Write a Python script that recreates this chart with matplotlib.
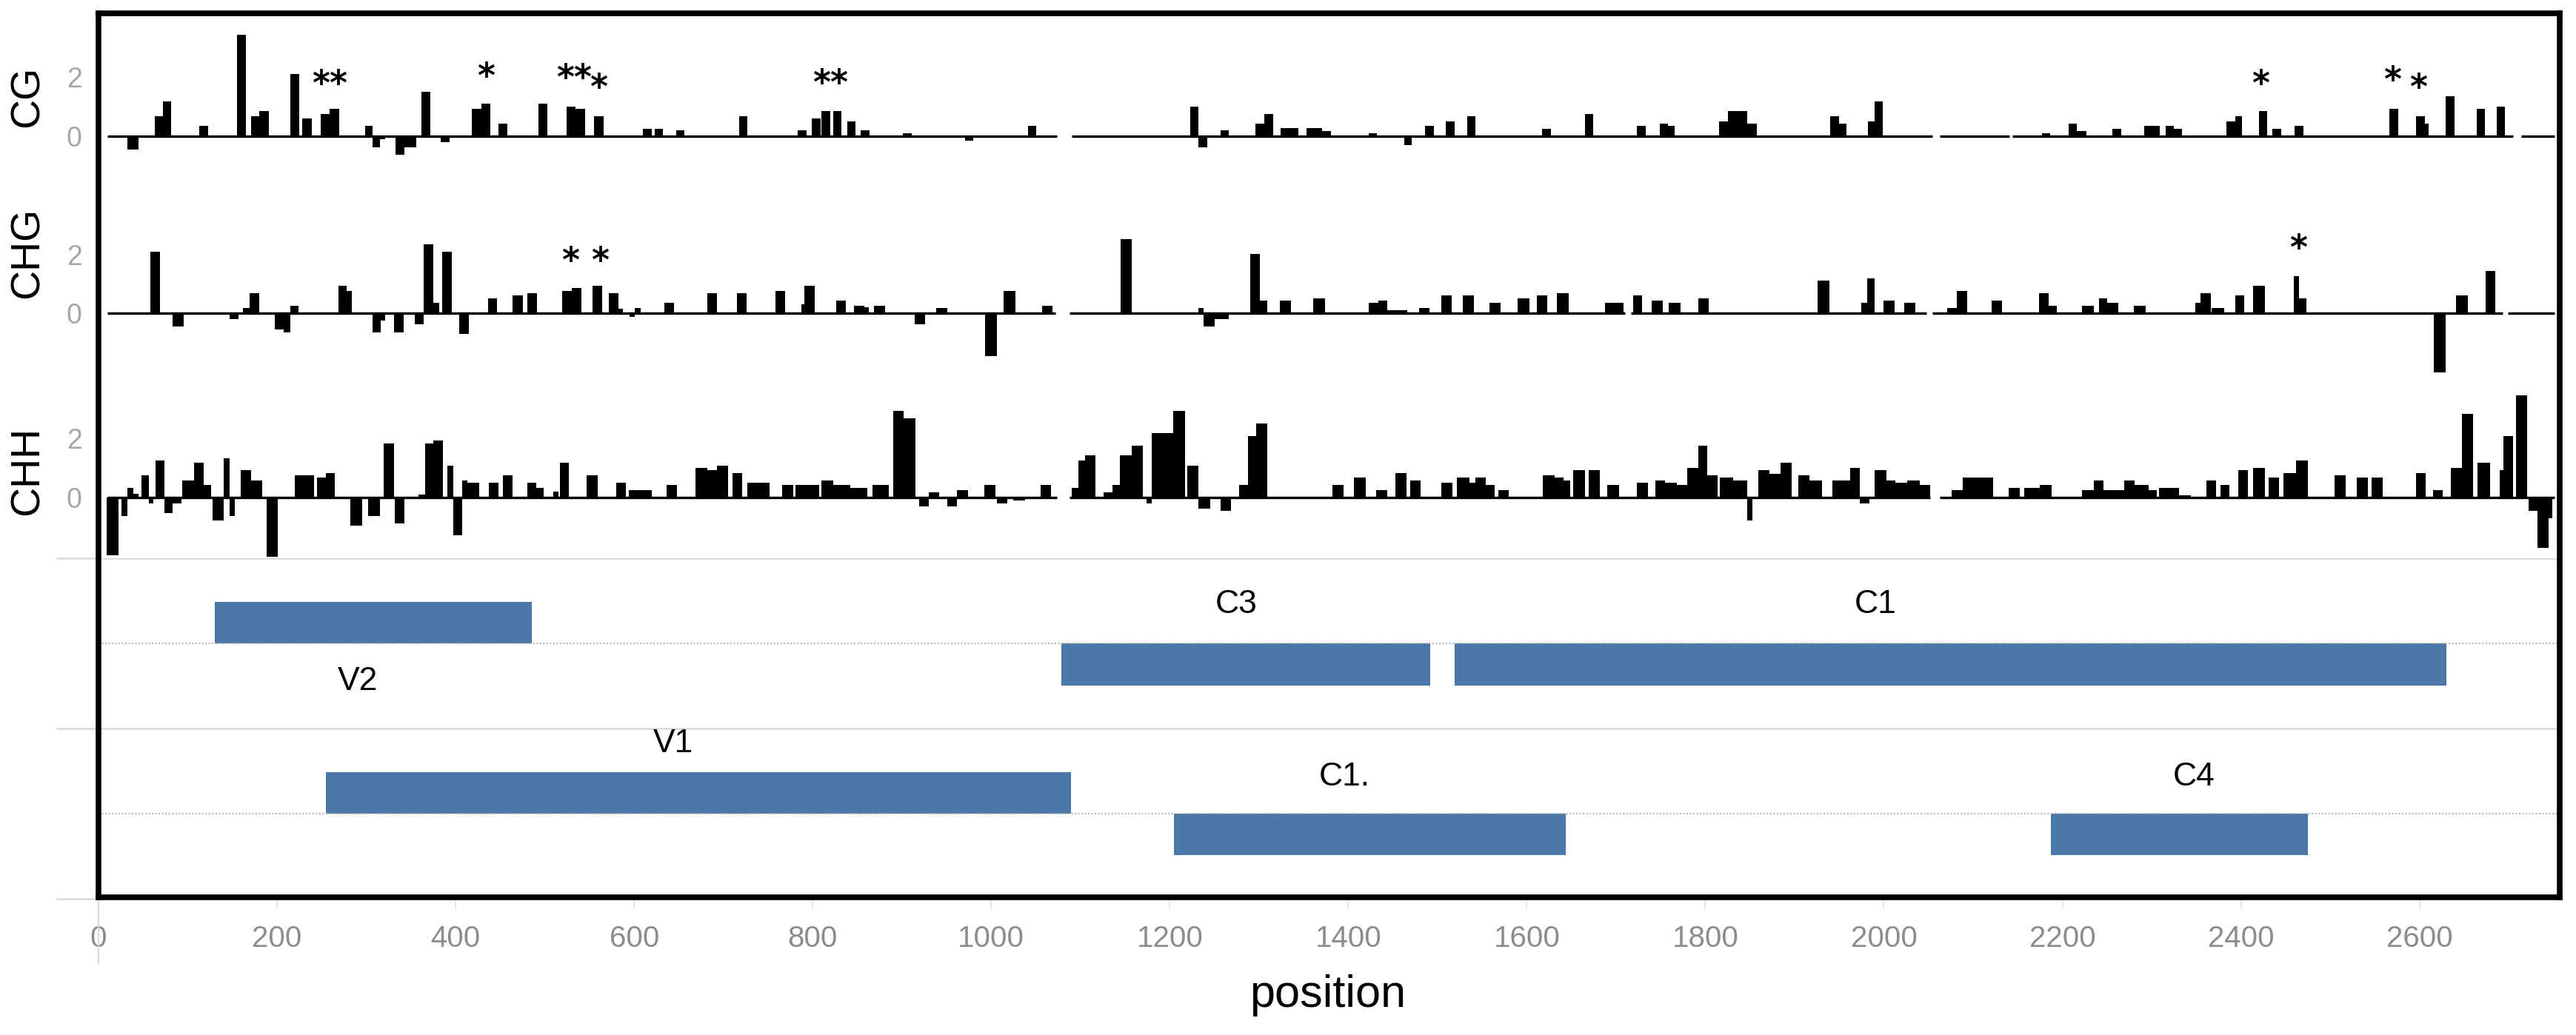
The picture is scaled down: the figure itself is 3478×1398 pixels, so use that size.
import matplotlib.pyplot as plt
import numpy as np

plt.rcParams['font.family'] = ['Liberation Sans', 'DejaVu Sans']

# methylation windows: (start, end, value)
cg_bars = [
    (32, 45, -0.46), (63, 72, 0.67), (72, 81, 1.17), (113, 123, 0.33), (155, 165, 3.42),
    (171, 180, 0.67), (180, 191, 0.83), (215, 225, 2.08), (228, 239, 0.58), (249, 259, 0.75),
    (259, 270, 0.92), (299, 307, 0.33), (307, 315, -0.40), (315, 321, -0.12), (333, 343, -0.63),
    (343, 356, -0.40), (362, 372, 1.5), (383, 393, -0.21), (418, 429, 0.92), (429, 439, 1.08),
    (448, 458, 0.42), (493, 503, 1.08), (524, 534, 1.0), (534, 545, 0.92), (555, 566, 0.67),
    (610, 620, 0.25), (623, 632, 0.25), (647, 656, 0.18), (718, 727, 0.67), (783, 793, 0.18),
    (799, 809, 0.58), (810, 820, 0.83), (823, 832, 0.83), (839, 848, 0.5), (854, 864, 0.18),
    (901, 911, 0.08), (971, 980, -0.15), (1041, 1050, 0.33), (1223, 1232, 1.0), (1232, 1242, -0.4),
    (1257, 1266, 0.18), (1296, 1306, 0.42), (1306, 1316, 0.75), (1324, 1344, 0.27), (1353, 1371, 0.27),
    (1371, 1381, 0.17), (1423, 1432, 0.08), (1463, 1471, -0.32), (1486, 1496, 0.33), (1509, 1519, 0.5),
    (1533, 1542, 0.67), (1617, 1627, 0.25), (1665, 1674, 0.75), (1723, 1733, 0.33), (1749, 1758, 0.42),
    (1758, 1766, 0.33), (1815, 1825, 0.5), (1825, 1837, 0.83), (1837, 1847, 0.83), (1847, 1858, 0.42),
    (1940, 1950, 0.67), (1950, 1958, 0.42), (1982, 1990, 0.5), (1990, 1999, 1.17), (2177, 2186, 0.08),
    (2207, 2216, 0.42), (2216, 2227, 0.17), (2256, 2266, 0.25), (2292, 2309, 0.33), (2316, 2325, 0.33),
    (2325, 2334, 0.25), (2384, 2394, 0.5), (2394, 2401, 0.67), (2420, 2429, 0.83), (2435, 2445, 0.25),
    (2460, 2470, 0.33), (2566, 2576, 0.92), (2596, 2606, 0.67), (2606, 2610, 0.42), (2629, 2639, 1.33),
    (2664, 2673, 0.92), (2687, 2696, 1.0),
]

chg_bars = [
    (58, 69, 2.1), (83, 95, -0.44), (147, 157, -0.19), (162, 169, 0.18), (169, 180, 0.68),
    (197, 207, -0.54), (207, 215, -0.63), (215, 224, 0.27), (269, 278, 0.93), (278, 284, 0.77),
    (307, 316, -0.63), (316, 321, -0.25), (331, 342, -0.63), (354, 364, -0.36), (364, 375, 2.33),
    (375, 382, 0.35), (385, 396, 2.1), (404, 415, -0.7), (436, 446, 0.52), (464, 475, 0.6),
    (480, 491, 0.68), (519, 530, 0.77), (530, 541, 0.85), (553, 564, 0.93), (572, 582, 0.68),
    (582, 587, 0.15), (595, 601, -0.12), (601, 607, 0.18), (634, 645, 0.35), (682, 693, 0.68),
    (715, 726, 0.68), (758, 769, 0.77), (787, 791, 0.3), (791, 802, 0.93), (826, 837, 0.43),
    (846, 858, 0.27), (858, 863, 0.2), (869, 881, 0.27), (914, 926, -0.36), (938, 951, 0.18),
    (993, 1006, -1.45), (1014, 1027, 0.77), (1057, 1069, 0.27), (1145, 1157, 2.52), (1232, 1238, 0.18),
    (1238, 1250, -0.44), (1250, 1266, -0.2), (1290, 1301, 2.02), (1301, 1309, 0.43), (1323, 1336, 0.43),
    (1361, 1374, 0.52), (1423, 1434, 0.35), (1434, 1444, 0.43), (1444, 1466, 0.1), (1479, 1491, 0.18),
    (1504, 1516, 0.6), (1528, 1541, 0.6), (1558, 1571, 0.35), (1590, 1603, 0.52), (1611, 1623, 0.6),
    (1634, 1647, 0.68), (1688, 1708, 0.35), (1719, 1729, 0.6), (1740, 1752, 0.43), (1759, 1772, 0.35),
    (1792, 1804, 0.52), (1926, 1939, 1.1), (1975, 1981, 0.35), (1981, 1990, 1.18), (2000, 2012, 0.43),
    (2023, 2035, 0.35), (2071, 2082, 0.18), (2082, 2093, 0.77), (2121, 2132, 0.43), (2174, 2185, 0.68),
    (2185, 2194, 0.27), (2222, 2235, 0.27), (2241, 2250, 0.52), (2250, 2263, 0.35), (2280, 2293, 0.27),
    (2349, 2355, 0.35), (2355, 2366, 0.68), (2367, 2381, 0.18), (2394, 2404, 0.6), (2414, 2427, 0.93),
    (2459, 2465, 1.27), (2465, 2473, 0.5), (2616, 2629, -2.0), (2641, 2654, 0.6), (2674, 2685, 1.43),
]

chh_bars = [
    (9, 22, -1.96), (26, 32, -0.63), (32, 39, 0.33), (39, 45, 0.13), (48, 56, 0.75),
    (56, 61, -0.2), (64, 74, 1.25), (74, 83, -0.54), (83, 93, -0.2), (94, 107, 0.58),
    (107, 118, 1.17), (118, 126, 0.42), (128, 140, -0.79), (140, 147, 1.33), (147, 153, -0.63),
    (159, 171, 0.92), (171, 183, 0.58), (188, 201, -2.0), (220, 230, 0.75), (230, 241, 0.75),
    (245, 255, 0.67), (255, 265, 0.83), (282, 295, -0.96), (302, 315, -0.63), (319, 331, 1.83),
    (332, 343, -0.88), (358, 366, 0.1), (366, 375, 1.83), (375, 386, 1.92), (391, 397, 1.08),
    (397, 407, -1.27), (407, 413, 0.58), (413, 426, 0.5), (437, 448, 0.5), (453, 464, 0.75),
    (480, 490, 0.5), (490, 499, 0.33), (509, 515, 0.2), (517, 527, 1.17), (547, 559, 0.75),
    (580, 591, 0.5), (594, 620, 0.25), (636, 648, 0.42), (669, 682, 1.0), (682, 693, 0.92),
    (693, 705, 1.08), (710, 721, 0.83), (727, 752, 0.5), (766, 778, 0.42), (781, 807, 0.42),
    (810, 823, 0.58), (823, 842, 0.42), (842, 861, 0.33), (867, 885, 0.42), (890, 902, 2.92),
    (902, 915, 2.67), (919, 930, -0.29), (930, 942, 0.17), (951, 962, -0.29), (962, 974, 0.25),
    (992, 1005, 0.42), (1006, 1018, -0.21), (1025, 1038, -0.1), (1055, 1067, 0.42), (1090, 1098, 0.33),
    (1098, 1105, 1.25), (1105, 1117, 1.42), (1126, 1136, 0.17), (1136, 1144, 0.42), (1144, 1157, 1.42),
    (1157, 1170, 1.75), (1174, 1180, -0.21), (1180, 1193, 2.17), (1193, 1204, 2.17), (1204, 1217, 2.92),
    (1220, 1232, 1.08), (1232, 1245, -0.38), (1257, 1269, -0.46), (1278, 1288, 0.42), (1288, 1297, 2.08),
    (1297, 1309, 2.5), (1382, 1395, 0.42), (1406, 1420, 0.67), (1431, 1444, 0.25), (1453, 1465, 0.83),
    (1469, 1481, 0.58), (1504, 1517, 0.5), (1522, 1536, 0.67), (1536, 1542, 0.5), (1542, 1554, 0.67),
    (1554, 1564, 0.42), (1568, 1580, 0.25), (1618, 1631, 0.75), (1631, 1641, 0.67), (1641, 1649, 0.58),
    (1652, 1665, 0.92), (1669, 1682, 0.92), (1690, 1703, 0.42), (1723, 1736, 0.5), (1744, 1755, 0.58),
    (1755, 1768, 0.5), (1768, 1780, 0.42), (1780, 1792, 1.0), (1792, 1802, 1.75), (1802, 1814, 0.75),
    (1816, 1831, 0.67), (1831, 1841, 0.58), (1841, 1847, 0.58), (1847, 1853, -0.79), (1859, 1872, 0.92),
    (1872, 1884, 0.79), (1884, 1897, 1.17), (1904, 1917, 0.75), (1917, 1931, 0.58), (1942, 1962, 0.58),
    (1962, 1973, 1.0), (1973, 1984, -0.21), (1990, 2003, 0.92), (2003, 2013, 0.58), (2013, 2026, 0.5),
    (2026, 2040, 0.58), (2040, 2052, 0.42), (2076, 2088, 0.25), (2088, 2122, 0.67), (2140, 2152, 0.33),
    (2157, 2175, 0.33), (2175, 2188, 0.42), (2222, 2235, 0.25), (2235, 2246, 0.58), (2246, 2269, 0.25),
    (2269, 2281, 0.58), (2281, 2297, 0.42), (2297, 2306, 0.25), (2308, 2331, 0.33), (2331, 2344, 0.08),
    (2361, 2372, 0.58), (2377, 2387, 0.42), (2397, 2408, 0.92), (2414, 2427, 1.0), (2431, 2443, 0.67),
    (2448, 2462, 0.83), (2462, 2475, 1.25), (2505, 2517, 0.75), (2530, 2542, 0.67), (2546, 2559, 0.67),
    (2596, 2607, 0.83), (2615, 2626, 0.25), (2635, 2648, 1.0), (2648, 2660, 2.83), (2665, 2679, 1.17),
    (2690, 2694, 0.92), (2694, 2705, 2.08), (2708, 2721, 3.46), (2722, 2732, -0.46), (2732, 2745, -1.71),
    (2745, 2749, -0.71),
]

# significance marks (position, level, mark)
cg_stars = [(259, 2.06, '**'), (434, 2.29, '*'), (533, 2.25, '**'), (560, 1.92, '*'),
            (820, 2.08, '**'), (2422, 2.04, '*'), (2570, 2.17, '*'), (2599, 1.92, '*')]
chg_stars = [(546, 2.07, '* *'), (2464, 2.5, '*')]
chh_stars = []

# zero line pieces (the three tracks were pasted together)
cg_line = [(10, 1074), (1090, 2054), (2063, 2141), (2144, 2705), (2714, 2751)]
chg_line = [(10, 1072), (1088, 1710), (1717, 2048), (2054, 2693), (2699, 2751)]
chh_line = [(10, 1074), (1088, 2052), (2063, 2751)]

# genes
gene_names = ['V2', 'C3', 'C1', 'V1', 'C1.', 'C4']
gene_start = [130, 1079, 1519, 255, 1205, 2187]
gene_end = [485, 1492, 2630, 1089, 1644, 2475]
gene_row = [1, 1, 1, 0, 0, 0]
gene_upper = [True, False, False, True, False, False]

x_ticks = list(range(0, 2601, 200))

# ---- layout (reference pixels of a 1568 x 630 view) ----
W, H = 1568.0, 630.0
PX = 18.0  # pixels per methylation unit


def rect(x0, y0, x1, y1):
    return [x0 / W, 1 - y1 / H, (x1 - x0) / W, (y1 - y0) / H]


XL = (0, 2757)
fig = plt.figure(figsize=(34.78, 13.98), dpi=100)

panels = [
    ('CG', cg_bars, cg_stars, cg_line, 10, 118, 82.7, 58.6),
    ('CHG', chg_bars, chg_stars, chg_line, 118, 232, 190.8, 154),
    ('CHH', chh_bars, chh_stars, chh_line, 232, 340, 302.8, 286.6),
]

for name, bars, stars, line, top, bot, zero, lab_y in panels:
    ax = fig.add_axes(rect(60, top, 1558, bot))
    b = np.array(bars)
    ax.bar(b[:, 0], b[:, 2], width=b[:, 1] - b[:, 0], align='edge', color='black', linewidth=0)
    seg = np.array(line)
    ax.hlines(np.zeros(len(seg)), seg[:, 0], seg[:, 1], color='black', lw=2.4)
    for sx, sy, mark in stars:
        ax.annotate(mark, (sx, sy), xytext=(0, -19), textcoords='offset points',
                    ha='center', va='baseline', fontsize=33, fontweight='bold',
                    family='DejaVu Sans')
    ax.set_xlim(XL)
    ax.set_ylim((zero - bot) / PX, (zero - top) / PX)
    ax.set_yticks([0, 2])
    ax.tick_params(axis='y', length=0, pad=16, labelsize=27, labelcolor='#a6a6a6')
    ax.set_xticks([])
    for s in ax.spines.values():
        s.set_visible(False)
    ax.patch.set_alpha(0)
    fig.text(17 / W, 1 - lab_y / H, name, rotation=90, ha='center', va='center', fontsize=40)

# gene map
ag = fig.add_axes(rect(60, 340, 1558, 547))
ag.set_zorder(-1)
bar_h = 0.245
for i, g in enumerate(gene_names):
    yc = gene_row[i] + (0.5 + bar_h / 2 if gene_upper[i] else 0.5 - bar_h / 2)
    ag.barh(yc, gene_end[i] - gene_start[i], left=gene_start[i], height=bar_h, color='#4b78a9')

label_dy = {'V2': -0.225, 'C3': 0.23, 'C1': 0.23, 'V1': 0.41, 'C1.': 0.215, 'C4': 0.215}
label_dx = {'V2': -17, 'C3': -11, 'C1': -84, 'V1': -28, 'C1.': -29, 'C4': 16}
for i, g in enumerate(gene_names):
    xc = (gene_start[i] + gene_end[i]) / 2 + label_dx[g]
    ag.text(xc, gene_row[i] + 0.5 + label_dy[g], g, ha='center', va='center', fontsize=32)

for yy in (0.5, 1.5):
    ag.axhline(yy, color='#a6a6a6', lw=1.3, ls=(0, (1, 1.5)))
ag.set_xlim(XL)
ag.set_ylim(0, 2)
ag.set_yticks([0, 1, 2])
ag.yaxis.grid(True, color='#d9d9d9', lw=1.8)
ag.tick_params(axis='y', length=41, width=1.8, color='#d9d9d9', labelleft=False)
ag.set_xticks(x_ticks)
ag.tick_params(axis='x', length=10, width=1.2, color='#e3e3e3', pad=15,
               labelsize=29, labelcolor='#8c8c8c')
for s in ag.spines.values():
    s.set_visible(False)
ag.axvline(0, ymin=-0.193, ymax=0, color='#d9d9d9', lw=1.5, clip_on=False)
fig.text(808 / W, 1 - 606 / H, 'position', ha='center', va='center', fontsize=44)

# black frame around everything
af = fig.add_axes(rect(60, 8, 1558, 546))
af.set_xticks([])
af.set_yticks([])
af.patch.set_visible(False)
for s in af.spines.values():
    s.set_linewidth(5.5)
    s.set_color('black')

fig.savefig('out.png', dpi=100, facecolor='white')
